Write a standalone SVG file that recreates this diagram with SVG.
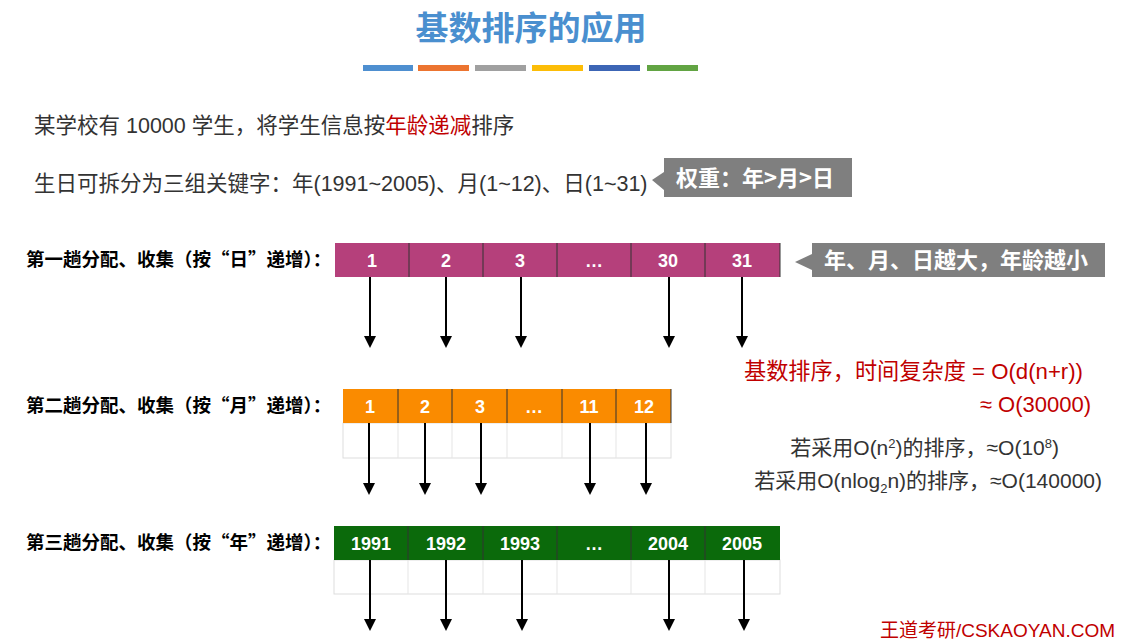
<svg xmlns="http://www.w3.org/2000/svg" width="1130" height="641" viewBox="0 0 1130 641">
<defs>
<marker id="ah" markerWidth="12" markerHeight="12" refX="10" refY="6" orient="auto" markerUnits="userSpaceOnUse" viewBox="0 0 12 12"><path d="M0,0 L12,6 L0,12 Z" fill="#000"/></marker>
<style>
text{font-family:"Liberation Sans","Noto Sans CJK SC",sans-serif}
.lbl{font-size:18.5px;font-weight:bold;fill:#000;font-family:"Noto Sans CJK SC",sans-serif}
.cell{font-size:18px;font-weight:bold;fill:#fff;text-anchor:middle}
.body{font-size:21.5px;fill:#333}
.call{font-size:22px;font-weight:bold;fill:#fff;font-family:"Noto Sans CJK SC",sans-serif}
.sep{stroke:#333;stroke-width:1}
.empty{fill:#fff;stroke:#ddd;stroke-width:1}
.arr{stroke:#000;stroke-width:2;marker-end:url(#ah)}
</style>
</defs>
<rect width="1130" height="641" fill="#fff"/>
<g id="title">
<text x="531" y="40" font-size="33" font-weight="bold" fill="#4a8fcf" text-anchor="middle" font-family="Noto Sans CJK SC,sans-serif">基数排序的应用</text>
<rect x="363" y="65" width="50" height="6" fill="#4e8fd0"/>
<rect x="418" y="65" width="51" height="6" fill="#ec7430"/>
<rect x="475" y="65" width="51" height="6" fill="#a0a0a0"/>
<rect x="532" y="65" width="51" height="6" fill="#fcbd07"/>
<rect x="589" y="65" width="51" height="6" fill="#3c65b5"/>
<rect x="647" y="65" width="51" height="6" fill="#62a443"/>
</g>
<g id="text1"><text x="34" y="133" class="body">某学校有 10000 学生，将学生信息按<tspan fill="#c00000">年龄递减</tspan>排序</text></g>
<g id="text2"><text x="34" y="191" class="body">生日可拆分为三组关键字：年(1991~2005)、月(1~12)、日(1~31)</text></g>
<g id="callout1"><path d="M664,158 H852 V197 H664 V190 L652,180 L664,172 Z" fill="#7f7f7f"/><text x="676" y="186" class="call">权重：年&gt;月&gt;日</text></g>
<g id="callout2"><path d="M812,243 H1105 V277 H812 V270 L795,262 L812,254 Z" fill="#7f7f7f"/><text x="824" y="268" class="call">年、月、日越大，年龄越小</text></g>
<g id="row1">
<text x="26" y="266" class="lbl">第一趟分配、收集（按“日”递增）：</text>
<rect x="335" y="243" width="445" height="34" fill="#b5407b"/>
<path class="sep" d="M409,243V277M483,243V277M557,243V277M631,243V277M705,243V277M780,243V277"/>
<text x="372" y="267" class="cell">1</text><text x="446" y="267" class="cell">2</text><text x="520" y="267" class="cell">3</text><text x="594" y="267" class="cell">…</text><text x="668" y="267" class="cell">30</text><text x="742" y="267" class="cell">31</text>
</g>
<g id="row2">
<text x="26" y="412" class="lbl">第二趟分配、收集（按“月”递增）：</text>
<rect x="343" y="423" width="328" height="35" class="empty"/>
<path d="M398,423V458M452,423V458M507,423V458M562,423V458M616,423V458" stroke="#e5e5e5"/>
<rect x="343" y="389" width="328" height="34" fill="#fa8b00"/>
<path class="sep" d="M398,389V423M452,389V423M507,389V423M562,389V423M616,389V423M671,389V423"/>
<text x="370" y="413" class="cell">1</text><text x="425" y="413" class="cell">2</text><text x="480" y="413" class="cell">3</text><text x="534" y="413" class="cell">…</text><text x="589" y="413" class="cell">11</text><text x="644" y="413" class="cell">12</text>
</g>
<g id="row3">
<text x="26" y="549" class="lbl">第三趟分配、收集（按“年”递增）：</text>
<rect x="334" y="560" width="446" height="34" class="empty"/>
<path d="M408,560V594M483,560V594M557,560V594M631,560V594M705,560V594" stroke="#e5e5e5"/>
<rect x="334" y="526" width="446" height="34" fill="#0b6a0b"/>
<path class="sep" d="M408,526V560M483,526V560M557,526V560M631,526V560M705,526V560"/>
<text x="371" y="550" class="cell">1991</text><text x="446" y="550" class="cell">1992</text><text x="520" y="550" class="cell">1993</text><text x="594" y="550" class="cell">…</text><text x="668" y="550" class="cell">2004</text><text x="742" y="550" class="cell">2005</text>
</g>
<g id="connectors">
<line class="arr" x1="370" y1="277" x2="370" y2="346"/><line class="arr" x1="446" y1="277" x2="446" y2="346"/><line class="arr" x1="521" y1="277" x2="521" y2="346"/><line class="arr" x1="669" y1="277" x2="669" y2="346"/><line class="arr" x1="742" y1="277" x2="742" y2="346"/>
<line class="arr" x1="369" y1="423" x2="369" y2="493"/><line class="arr" x1="425" y1="423" x2="425" y2="493"/><line class="arr" x1="481" y1="423" x2="481" y2="493"/><line class="arr" x1="590" y1="423" x2="590" y2="493"/><line class="arr" x1="646" y1="423" x2="646" y2="493"/>
<line class="arr" x1="370" y1="560" x2="370" y2="629"/><line class="arr" x1="446" y1="560" x2="446" y2="629"/><line class="arr" x1="522" y1="560" x2="522" y2="629"/><line class="arr" x1="669" y1="560" x2="669" y2="629"/><line class="arr" x1="744" y1="560" x2="744" y2="629"/>
</g>
<g id="complexity">
<text x="1083" y="379" font-size="22.2" fill="#c00000" text-anchor="end">基数排序，时间复杂度 = O(d(n+r))</text>
<text x="1091" y="412" font-size="22" fill="#c00000" text-anchor="end">≈ O(30000)</text>
<text x="1059" y="455" font-size="21" fill="#333" text-anchor="end">若采用O(n<tspan font-size="13" dy="-7">2</tspan><tspan dy="7">)的排序，≈O(10</tspan><tspan font-size="13" dy="-7">8</tspan><tspan dy="7">)</tspan></text>
<text x="1102" y="488" font-size="21" fill="#333" text-anchor="end">若采用O(nlog<tspan font-size="13" dy="5">2</tspan><tspan dy="-5">n)的排序，≈O(140000)</tspan></text>
</g>
<g id="footer"><text x="1115" y="637" font-size="19" fill="#c00000" text-anchor="end">王道考研/CSKAOYAN.COM</text></g>
</svg>
